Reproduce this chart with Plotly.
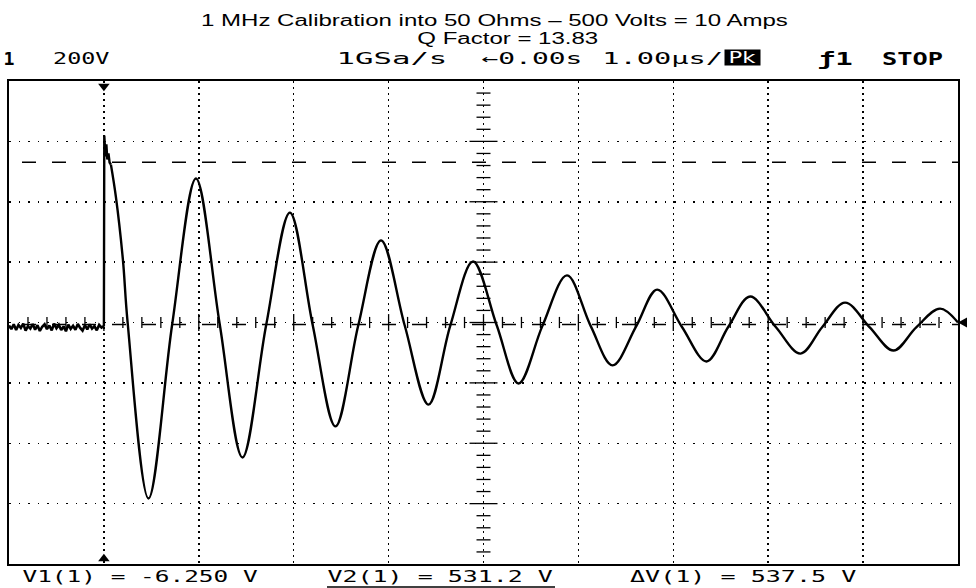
import json
import numpy as np
import plotly.graph_objects as go

# ---------------- data ----------------
title_line1 = "1 MHz Calibration into 50 Ohms – 500 Volts = 10 Amps"
title_line2 = "Q Factor = 13.83"
header_labels = ["1", "200V", "1GSa/s", "←0.00s", "1.00µs/", "Pk", "ƒ1", "STOP"]
footer_labels = ["V1(1) = -6.250 V", "V2(1) = 531.2 V", "ΔV(1) = 537.5 V"]

x_range_us = [-1, 9]          # 1.00 us/div, trigger at 0
y_range_v = [-800, 800]       # 200 V/div
x_ticks_us = list(range(-1, 10))
y_ticks_v = list(range(-800, 801, 200))

cursor_v1 = -6.25
cursor_v2 = 531.2

# pre-trigger baseline (noisy)
pre_t = [round(-1 + 0.025 * i, 3) for i in range(41)]
pre_v = [-10, -22, -6, -25, -8, -18, -4, -27, -12, -20, -5, -24, -9, -28, -14, -6,
         -22, -10, -26, -4, -19, -8, -25, -13, -29, -7, -21, -11, -24, -5, -18, -27,
         -9, -23, -6, -20, -12, -26, -8, -17, -12]

# trigger edge and first spike
spike_t = [0.0, 0.0, 0.004, 0.010, 0.018, 0.026, 0.036, 0.048, 0.060, 0.074]
spike_v = [-12, 330, 619, 585, 550, 590, 540, 560, 530, 523]

# damped ringing: peaks, troughs and crossings
ring_t = [0.074, 0.126, 0.20, 0.25, 0.47, 0.72, 0.97, 1.22, 1.46, 1.71, 1.96, 2.20,
          2.44, 2.68, 2.92, 3.17, 3.42, 3.65, 3.89, 4.14, 4.37, 4.62, 4.88, 5.13,
          5.36, 5.61, 5.83, 6.09, 6.35, 6.58, 6.81, 7.08, 7.34, 7.57, 7.81, 8.07,
          8.32, 8.56, 8.81, 9.0]
ring_v = [523, 417, 209, 0, -583, -5, 477, -5, -447, -8, 364, -8,
          -344, -10, 272, -10, -272, -10, 202, -10, -202, -12, 156, -12,
          -142, -12, 109, -14, -129, -14, 86, -15, -103, -15, 66, -16,
          -93, -16, 46, 0]

# ---------------- layout geometry ----------------
W, H = 976, 588
L, T, PW, PH = 9, 81, 949, 483


def px(xp):
    return (xp - L) / PW


def py(yp):
    return (T + PH - yp) / PH


fig = go.Figure()

# center-line graticule ticks
minor_y = [v for v in range(-800, 801, 40) if v % 200 != 0]
major_y = [v for v in y_ticks_v if abs(v) != 800]
minor_x = [round(x, 2) for x in np.arange(-1, 9.001, 0.2) if abs(round(x, 2) - round(x)) > 1e-6]
major_x = [x for x in x_ticks_us if x not in (-1, 9)]
xc = (x_range_us[0] + x_range_us[1]) / 2

tick_style = dict(color="black", line=dict(color="black", width=1.3))
fig.add_trace(go.Scatter(x=[xc] * len(minor_y), y=minor_y, mode="markers", hoverinfo="skip",
                         marker=dict(symbol="line-ew", size=10, **tick_style)))
fig.add_trace(go.Scatter(x=[xc] * len(major_y), y=major_y, mode="markers", hoverinfo="skip",
                         marker=dict(symbol="line-ew", size=20, **tick_style)))
fig.add_trace(go.Scatter(x=minor_x, y=[0] * len(minor_x), mode="markers", hoverinfo="skip",
                         marker=dict(symbol="line-ns", size=8, **tick_style)))
fig.add_trace(go.Scatter(x=major_x, y=[0] * len(major_x), mode="markers", hoverinfo="skip",
                         marker=dict(symbol="line-ns", size=12, **tick_style)))

# cursors
x_dash_start = (22 - 103.9) / 94.9
for cv in (cursor_v2, cursor_v1):
    fig.add_shape(type="line", xref="x", yref="y", x0=x_dash_start, x1=x_range_us[1],
                  y0=cv, y1=cv, line=dict(color="black", width=1.5, dash="14px,16px"))

# waveform
fig.add_trace(go.Scatter(x=pre_t, y=pre_v, mode="lines", line=dict(color="black", width=2.6),
                         hoverinfo="skip"))
fig.add_trace(go.Scatter(x=spike_t, y=spike_v, mode="lines", line=dict(color="black", width=2.4),
                         hoverinfo="skip"))
fig.add_trace(go.Scatter(x=ring_t, y=ring_v, mode="lines",
                         line=dict(color="black", width=2.4, shape="spline", smoothing=1),
                         hoverinfo="skip"))

# trigger markers
fig.add_trace(go.Scatter(x=[0, 0], y=[783, -783], mode="markers", cliponaxis=False, hoverinfo="skip",
                         marker=dict(symbol=["triangle-down", "triangle-up"], size=10, color="black")))

# channel ground marker at right edge (pointing left)
fig.add_shape(type="path", xref="paper", yref="paper", fillcolor="black", line=dict(width=0),
              path="M {:.5f},{:.5f} L {:.5f},{:.5f} L {:.5f},{:.5f} Z".format(
                  px(958), py(322.5), px(967), py(317.5), px(967), py(327.5)))

# ---------------- text ----------------
annotations = []
targets = []


def add_text(text, xc_px, yc_px, font, target=None, **kw):
    annotations.append(dict(text=text, xref="paper", yref="paper", x=px(xc_px), y=py(yc_px),
                            xanchor="center", yanchor="middle", showarrow=False, font=font, **kw))
    targets.append(target or 0)


sans = dict(family="Liberation Sans, Arial, sans-serif", size=16, color="black")
mono = dict(family="DejaVu Sans Mono, monospace", size=16, color="black")
mono_b = dict(family="DejaVu Sans Mono, monospace", size=17, color="black", weight="bold")

# two-line title (second line nudged right as in the original)
add_text(title_line1 + "<br>" + "\u00a0" * 4 + title_line2, 494, 30.5, sans, 587)

hy = 59
add_text(header_labels[0], 9, hy, mono_b, 11)
add_text(header_labels[1], 81.5, hy, mono, 57)
add_text(header_labels[2], 392, hy, mono, 111)
add_text(header_labels[3], 532, hy, mono, 101)
add_text(header_labels[4], 662, hy, mono, 121)
add_text(header_labels[5], 742.5, 57.5,
         dict(family="DejaVu Sans, sans-serif", size=16, color="white"), 28,
         bgcolor="black", width=35, height=15, borderpad=0)
add_text(header_labels[6], 835, hy, mono_b, 35)
add_text(header_labels[7], 912, hy, mono_b, 61)

fy = 576
add_text(footer_labels[0], 140, fy, mono, 236)
add_text(footer_labels[1], 440, fy, mono, 226)
add_text(footer_labels[2], 743, fy, mono, 227)

# underline for active cursor readout
fig.add_shape(type="line", xref="paper", yref="paper", x0=px(327), x1=px(555), y0=py(587), y1=py(587),
              line=dict(color="black", width=1.5))

fig.update_layout(
    width=W, height=H,
    margin=dict(l=L, r=W - L - PW, t=T, b=H - T - PH),
    paper_bgcolor="white", plot_bgcolor="white",
    showlegend=False,
    annotations=annotations,
    xaxis=dict(range=x_range_us, tickvals=x_ticks_us, showticklabels=False, ticks="",
               showgrid=True, gridcolor="black", gridwidth=1.5, griddash="1.5px,4.5px",
               zeroline=False, showline=True, mirror=True, linecolor="black", linewidth=2,
               fixedrange=True),
    yaxis=dict(range=y_range_v, tickvals=y_ticks_v, showticklabels=False, ticks="",
               showgrid=True, gridcolor="black", gridwidth=1.5, griddash="1.5px,8px",
               zeroline=False, showline=True, mirror=True, linecolor="black", linewidth=2,
               fixedrange=True),
)

post = """
var gd = document.getElementById('{plot_id}');
var W = %s;
gd.querySelectorAll('g.annotation').forEach(function(g){
  var i = +g.getAttribute('data-index');
  var t = g.querySelector('text.annotation-text');
  if (!t) return;
  var lines = t.querySelectorAll('tspan.line');
  if (lines.length > 1) {
    for (var k = 1; k < lines.length; k++) { lines[k].setAttribute('dy', '1.15em'); }
  }
  var w = W[i];
  if (!w) return;
  var bb = t.getBBox();
  if (!bb.width) return;
  var s = w / bb.width;
  t.style.transformBox = 'fill-box';
  t.style.transformOrigin = 'center';
  t.style.transform = 'scaleX(' + s + ')';
});
""" % json.dumps(targets)

fig.write_html("out.html", post_script=post, config={"displayModeBar": False, "staticPlot": True})
